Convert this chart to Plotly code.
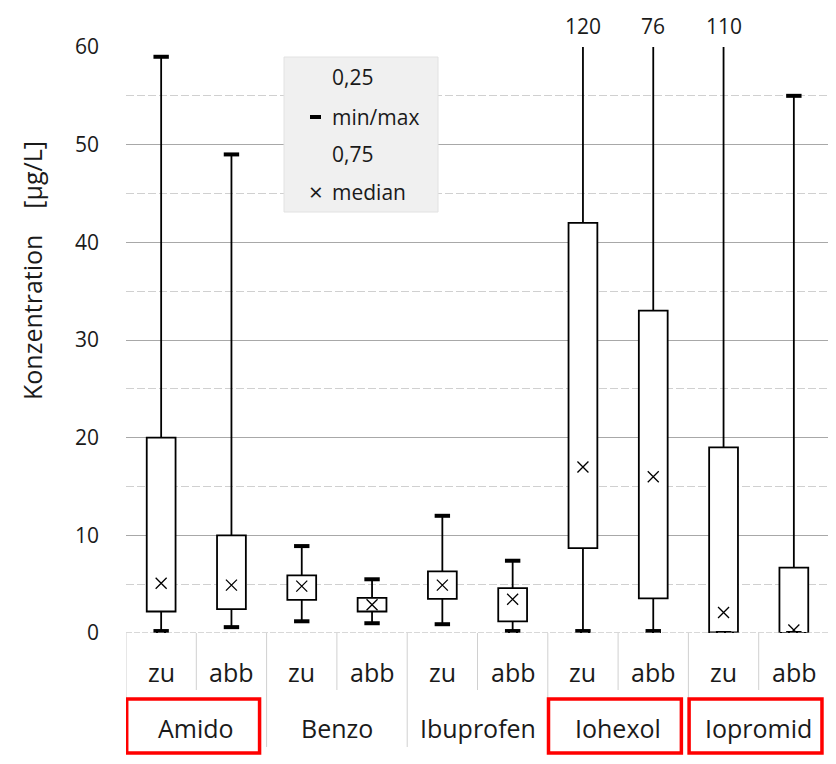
import plotly.graph_objects as go

# ---- data ----
groups = ["Amido", "Benzo", "Ibuprofen", "Iohexol", "Iopromid"]
subs = ["zu", "abb"]
highlighted = ["Amido", "Iohexol", "Iopromid"]

v_min = [0.2, 0.6, 1.2, 1.0, 0.9, 0.2, 0.2, 0.2, 0.0, 0.0]
v_q1 = [2.2, 2.45, 3.4, 2.2, 3.5, 1.2, 8.7, 3.55, 0.05, 0.0]
v_median = [5.1, 4.9, 4.8, 2.9, 4.9, 3.45, 17.0, 16.0, 2.1, 0.3]
v_q3 = [20.0, 10.0, 5.9, 3.6, 6.3, 4.6, 42.0, 33.0, 19.0, 6.7]
v_max = [59.0, 49.0, 8.9, 5.5, 12.0, 7.4, 120.0, 76.0, 110.0, 55.0]

y_range = [0, 60]
y_ticks = [0, 10, 20, 30, 40, 50, 60]
legend_labels = ["0,25", "min/max", "0,75", "median"]

# ---- layout geometry (page pixels; page body has an 8px margin) ----
OFF = 8
W, H = 836 - OFF, 764 - OFF
PL, PR, PT, PB = 126, 829, 47, 633          # plot area in page pixels
L, R, T, B = PL - OFF, W - (PR - OFF), PT - OFF, H - (PB - OFF)
PW, PH = PR - PL, PB - PT
FONT = "Open Sans"
TXT = "#1a1a1a"


def px_x(p):
    return (p - PL) / PW


def px_y(p):
    return (PB - p) / PH


n = len(groups) * len(subs)
xs = list(range(n))
sub_labels = [s for g in groups for s in subs]

fig = go.Figure()

# whiskers (min->q1 and q3->max)
wx, wy = [], []
for i in xs:
    wx += [i, i, None, i, i, None]
    wy += [v_min[i], v_q1[i], None, v_q3[i], v_max[i], None]
fig.add_trace(go.Scatter(x=wx, y=wy, mode="lines",
                         line=dict(color="black", width=1.8),
                         showlegend=False, hoverinfo="skip"))

# boxes q1..q3
fig.add_trace(go.Bar(x=xs, y=[v_q3[i] - v_q1[i] for i in xs], base=v_q1,
                     width=0.41,
                     marker=dict(color="white", line=dict(color="black", width=1.8)),
                     showlegend=False, hoverinfo="skip"))

# min/max caps
fig.add_trace(go.Scatter(x=xs + xs, y=v_min + v_max, mode="markers",
                         marker=dict(symbol="line-ew", size=11,
                                     line=dict(color="black", width=4)),
                         showlegend=False, hoverinfo="skip"))

# medians
fig.add_trace(go.Scatter(x=xs, y=v_median, mode="markers",
                         marker=dict(symbol="x-thin", size=11,
                                     line=dict(color="black", width=1.3)),
                         showlegend=False, hoverinfo="skip"))

shapes = []
annotations = []

# labels for maxima above the axis range
for i in xs:
    if v_max[i] > y_range[1]:
        annotations.append(dict(x=i, y=px_y(26), xref="x", yref="paper",
                                text=f"{v_max[i]:g}", showarrow=False,
                                font=dict(family=FONT, size=21, color=TXT),
                                xanchor="center", yanchor="middle"))

# category table lines
grid_c = "#d0d0d0"
for k in range(n + 1):
    bottom = px_y(747) if k % len(subs) == 0 else px_y(690)
    shapes.append(dict(type="line", xref="x", yref="paper",
                       x0=k - 0.5, x1=k - 0.5, y0=0, y1=bottom,
                       line=dict(color=grid_c, width=1)))
# zero line
shapes.append(dict(type="line", xref="paper", yref="y", x0=0, x1=1, y0=0, y1=0,
                   line=dict(color="#b0b0b0", width=1, dash="6px,2px")))

for i in xs:
    annotations.append(dict(x=i, y=px_y(672), xref="x", yref="paper",
                            text=sub_labels[i], showarrow=False,
                            font=dict(family=FONT, size=25, color=TXT),
                            xanchor="center", yanchor="middle"))
for g, name in enumerate(groups):
    left = g * len(subs) - 0.5
    annotations.append(dict(x=left + len(subs) / 2, y=px_y(728), xref="x", yref="paper",
                            text=name, showarrow=False,
                            font=dict(family=FONT, size=25, color=TXT),
                            xanchor="center", yanchor="middle"))
    if name in highlighted:
        shapes.append(dict(type="rect", xref="x", yref="paper",
                           x0=left + 0.01, x1=left + 1.9,
                           y0=px_y(753), y1=px_y(699),
                           line=dict(color="#ff0000", width=3.5)))

# legend box (manual)
shapes.append(dict(type="rect", xref="paper", yref="paper",
                   x0=px_x(284), x1=px_x(438), y0=px_y(212), y1=px_y(57),
                   fillcolor="#f0f0f0", line=dict(color="#e2e2e2", width=1),
                   layer="above"))
row_y = [77, 117, 154, 192]
for lab, ry in zip(legend_labels, row_y):
    annotations.append(dict(x=px_x(330), y=px_y(ry), xref="paper", yref="paper",
                            text=lab, showarrow=False,
                            font=dict(family=FONT, size=21, color=TXT),
                            xanchor="left", yanchor="middle"))
shapes.append(dict(type="rect", xref="paper", yref="paper",
                   x0=px_x(310), x1=px_x(321), y0=px_y(119), y1=px_y(115),
                   fillcolor="black", line=dict(width=0), layer="above"))
annotations.append(dict(x=px_x(316), y=px_y(191), xref="paper", yref="paper",
                        text="×", showarrow=False,
                        font=dict(family=FONT, size=24, color=TXT),
                        xanchor="center", yanchor="middle"))

# y-axis title
annotations.append(dict(x=px_x(32), y=px_y(271), xref="paper", yref="paper",
                        text="Konzentration\u00a0\u00a0\u00a0 [µg/L]", textangle=-90,
                        showarrow=False,
                        font=dict(family=FONT, size=25, color=TXT),
                        xanchor="center", yanchor="middle"))

fig.update_layout(
    width=W, height=H,
    margin=dict(l=L, r=R, t=T, b=B, pad=0),
    paper_bgcolor="white", plot_bgcolor="white",
    shapes=shapes, annotations=annotations,
    showlegend=False,
    font=dict(family=FONT, color=TXT),
    xaxis=dict(range=[-0.5, n - 0.5], showticklabels=False, showgrid=False,
               zeroline=False, showline=False, ticks=""),
    yaxis=dict(range=y_range, tickvals=y_ticks, showgrid=True,
               gridcolor="#a8a8a8", gridwidth=1, zeroline=False, showline=False,
               ticks="", ticklabelstandoff=26,
               tickfont=dict(family=FONT, size=21, color=TXT),
               minor=dict(dtick=5, showgrid=True, gridcolor="#d0d0d0",
                          griddash="8px,3px", gridwidth=1)),
)

fig.write_html("out.html")
